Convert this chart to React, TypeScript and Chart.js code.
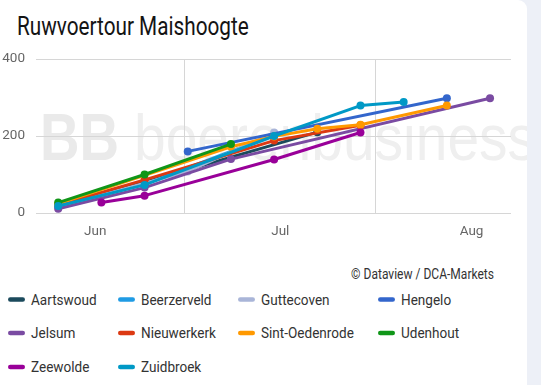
import React, { useEffect, useRef } from "react";
import { Chart, registerables } from "chart.js";

Chart.register(...registerables);

// ---------- data ----------
const seriesNames = [
  "Aartswoud",
  "Beerzerveld",
  "Guttecoven",
  "Hengelo",
  "Jelsum",
  "Nieuwerkerk",
  "Sint-Oedenrode",
  "Udenhout",
  "Zeewolde",
  "Zuidbroek",
];
const seriesColors = [
  "#1b4a5c",
  "#1f9be4",
  "#a9b5d8",
  "#3366cc",
  "#7a4ba2",
  "#dc3912",
  "#ff9900",
  "#109618",
  "#990099",
  "#0099c6",
];

// dates as "MM-DD", heights in cm
const aartswoudDates = ["05-26", "06-09", "07-07"];
const aartswoudValues = [19, 80, 210];
const beerzerveldDates = ["05-26", "06-09", "06-30"];
const beerzerveldValues = [16, 75, 203];
const guttecovenDates = ["05-26", "06-02", "06-16", "06-30"];
const guttecovenValues = [14, 47, 108, 209];
const hengeloDates = ["06-16", "07-28"];
const hengeloValues = [160, 298];
const jelsumDates = ["05-26", "06-09", "06-23", "08-04"];
const jelsumValues = [11, 66, 140, 298];
const nieuwerkerkDates = ["05-26", "06-09", "06-30", "07-14"];
const nieuwerkerkValues = [21, 86, 188, 228];
const sintOedenrodeDates = ["05-26", "06-23", "06-30", "07-07", "07-14", "07-28"];
const sintOedenrodeValues = [24, 172, 199, 219, 229, 279];
const udenhoutDates = ["05-26", "06-09", "06-23"];
const udenhoutValues = [27, 100, 179];
const zeewoldeDates = ["06-02", "06-09", "06-30", "07-14"];
const zeewoldeValues = [27, 45, 139, 209];
const zuidbroekDates = ["05-26", "06-09", "06-30", "07-14", "07-21"];
const zuidbroekValues = [18, 73, 200, 279, 288];

const seriesDates = [
  aartswoudDates,
  beerzerveldDates,
  guttecovenDates,
  hengeloDates,
  jelsumDates,
  nieuwerkerkDates,
  sintOedenrodeDates,
  udenhoutDates,
  zeewoldeDates,
  zuidbroekDates,
];
const seriesValues = [
  aartswoudValues,
  beerzerveldValues,
  guttecovenValues,
  hengeloValues,
  jelsumValues,
  nieuwerkerkValues,
  sintOedenrodeValues,
  udenhoutValues,
  zeewoldeValues,
  zuidbroekValues,
];

const monthTickDates = ["06-01", "07-01", "08-01"];
const monthLabels = ["Jun", "Jul", "Aug"];
const yTicks = [0, 200, 400];

const title = "Ruwvoertour Maishoogte";
const credit = "\u00A9 Dataview / DCA-Markets";

// ---------- helpers ----------
const FONT = "Roboto, 'Noto Sans', sans-serif";

function dayOf(md: string): number {
  const [m, d] = md.split("-").map(Number);
  return (Date.UTC(2024, m - 1, d) - Date.UTC(2024, 5, 1)) / 86400000;
}

const monthTickDays = monthTickDates.map(dayOf);
const gridDays = [14.5, 45.5];
const X_MIN = -9.6;
const X_MAX = 67.4;

const legendCols = [8, 118, 238, 378];
const legendRows = [299.5, 333, 367];

export default function App() {
  const canvasRef = useRef<HTMLCanvasElement | null>(null);

  useEffect(() => {
    if (!canvasRef.current) return;
    const n = seriesNames.length;
    const datasets = seriesNames.map((name, i) => ({
      label: name,
      data: seriesDates[i].map((d, j) => ({ x: dayOf(d), y: seriesValues[i][j] })),
      borderColor: seriesColors[i],
      backgroundColor: seriesColors[i],
      pointBackgroundColor: seriesColors[i],
      pointBorderColor: seriesColors[i],
      pointBorderWidth: 0,
      pointRadius: 4,
      borderWidth: 3,
      borderJoinStyle: "round" as const,
      borderCapStyle: "round" as const,
      tension: 0,
      fill: false,
      order: n - i,
    }));

    const chart = new Chart(canvasRef.current, {
      type: "line",
      data: { datasets },
      options: {
        animation: false,
        responsive: false,
        maintainAspectRatio: false,
        events: [],
        layout: { padding: { left: 0, top: 59, right: 30, bottom: 142 } },
        plugins: {
          legend: { display: false },
          tooltip: { enabled: false },
          title: { display: false },
        },
        scales: {
          x: {
            type: "linear",
            min: X_MIN,
            max: X_MAX,
            afterBuildTicks: (scale: any) => {
              scale.ticks = [...monthTickDays, ...gridDays]
                .sort((a, b) => a - b)
                .map((v) => ({ value: v }));
            },
            afterFit: (scale: any) => {
              scale.height = 30;
            },
            ticks: {
              autoSkip: false,
              maxRotation: 0,
              padding: 11,
              color: "#666666",
              font: { family: FONT, size: 13.5 },
              callback: (v: any) => {
                const idx = monthTickDays.indexOf(Number(v));
                return idx >= 0 ? monthLabels[idx] : "";
              },
            },
            grid: {
              drawTicks: false,
              lineWidth: 1,
              color: (ctx: any) =>
                ctx.tick && gridDays.includes(ctx.tick.value) ? "#d6d6d6" : "rgba(0,0,0,0)",
            },
            border: { display: false },
          },
          y: {
            min: 0,
            max: 400,
            afterBuildTicks: (scale: any) => {
              scale.ticks = yTicks.map((v) => ({ value: v }));
            },
            afterFit: (scale: any) => {
              scale.width = 36;
            },
            ticks: {
              padding: 11,
              color: "#666666",
              font: { family: FONT, size: 13.5 },
            },
            grid: { drawTicks: false, color: "#d6d6d6", lineWidth: 1 },
            border: { display: false },
          },
        },
      },
    });
    return () => chart.destroy();
  }, []);

  return (
    <div
      style={{
        position: "fixed",
        left: 0,
        top: 0,
        width: 541,
        height: 385,
        background: "#edf0f7",
        overflow: "hidden",
      }}
    >
      <div
        style={{
          position: "absolute",
          left: -10,
          top: 0,
          width: 537,
          height: 420,
          background: "#ffffff",
          borderTopRightRadius: 9,
          overflow: "hidden",
        }}
      >
        <svg
          width={541}
          height={385}
          style={{ position: "absolute", left: 10, top: 0 }}
        >
          {/* watermark */}
          <text
            x={40}
            y={160}
            fontFamily="'Liberation Sans', Arial, sans-serif"
            fontWeight={700}
            fontSize={66}
            fill="#eaeaea"
            textLength={79}
            lengthAdjust="spacingAndGlyphs"
          >
            BB
          </text>
          <text
            x={134}
            y={160}
            fontFamily="'Liberation Sans', Arial, sans-serif"
            fontSize={65}
            fill="#efefef"
            textLength={402}
            lengthAdjust="spacingAndGlyphs"
          >
            boerenbusiness
          </text>
          {/* title */}
          <text
            transform="translate(17,35) scale(0.83,1)"
            fontFamily={FONT}
            fontSize={25}
            fill="#141414"
          >
            {title}
          </text>
          {/* credit */}
          <text
            transform="translate(494,279) scale(0.86,1)"
            textAnchor="end"
            fontFamily={FONT}
            fontSize={14}
            fill="#333333"
          >
            {credit}
          </text>
          {/* legend */}
          {seriesNames.map((name, i) => {
            const col = i % 4;
            const row = Math.floor(i / 4);
            const x = legendCols[col];
            const cy = legendRows[row];
            return (
              <g key={name}>
                <rect
                  x={x}
                  y={cy - 2.25}
                  width={17}
                  height={4.5}
                  rx={2.25}
                  fill={seriesColors[i]}
                />
                <text
                  transform={`translate(${x + 23},${cy + 5.3}) scale(0.875,1)`}
                  fontFamily={FONT}
                  fontSize={15.5}
                  fill="#333333"
                >
                  {name}
                </text>
              </g>
            );
          })}
        </svg>
        <canvas
          ref={canvasRef}
          width={541}
          height={385}
          style={{ position: "absolute", left: 10, top: 0, width: 541, height: 385 }}
        />
      </div>
    </div>
  );
}
